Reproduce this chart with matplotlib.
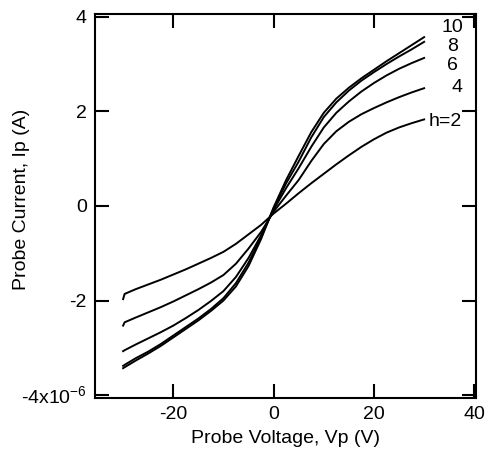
import matplotlib
matplotlib.use("Agg")
import matplotlib.pyplot as plt

plt.rcParams['font.family'] = ['Liberation Sans', 'DejaVu Sans']
plt.rcParams['mathtext.fontset'] = 'custom'
plt.rcParams['mathtext.rm'] = 'Liberation Sans'

# probe voltage (V) and probe current (units of 1e-6 A) for each h
v = [-30, -29.7, -27.5, -25, -22.5, -20, -17.5, -15, -12.5, -10, -7.5, -5, -2.5,
     0, 2.5, 5, 7.5, 10, 12.5, 15, 17.5, 20, 22.5, 25, 27.5, 30]

i_h2 = [-1.97, -1.86, -1.76, -1.66, -1.56, -1.45, -1.34, -1.22, -1.10, -0.97, -0.80, -0.60, -0.40,
        -0.16, 0.05, 0.27, 0.48, 0.68, 0.88, 1.07, 1.25, 1.41, 1.55, 1.66, 1.75, 1.83]
i_h4 = [-2.53, -2.46, -2.36, -2.25, -2.14, -2.02, -1.89, -1.76, -1.62, -1.46, -1.22, -0.90, -0.55,
        -0.12, 0.22, 0.55, 0.95, 1.31, 1.58, 1.78, 1.94, 2.07, 2.19, 2.30, 2.40, 2.49]
i_h6 = [-3.07, -3.05, -2.93, -2.80, -2.67, -2.53, -2.37, -2.20, -2.01, -1.80, -1.50, -1.10, -0.62,
        -0.08, 0.38, 0.80, 1.25, 1.66, 1.97, 2.21, 2.42, 2.60, 2.76, 2.90, 3.02, 3.13]
i_h8 = [-3.38, -3.36, -3.22, -3.08, -2.92, -2.74, -2.56, -2.38, -2.18, -1.95, -1.63, -1.20, -0.66,
        -0.05, 0.48, 0.94, 1.45, 1.88, 2.19, 2.44, 2.65, 2.83, 3.00, 3.16, 3.31, 3.47]
i_h10 = [-3.43, -3.41, -3.27, -3.12, -2.96, -2.78, -2.60, -2.42, -2.22, -2.00, -1.70, -1.27, -0.70,
         -0.03, 0.55, 1.06, 1.56, 1.97, 2.27, 2.50, 2.70, 2.88, 3.06, 3.23, 3.40, 3.57]

labels = ["h=2", "4", "6", "8", "10"]
label_pos = [(34.3, 1.78), (36.5, 2.50), (35.7, 2.98), (35.7, 3.37), (35.6, 3.77)]

fig = plt.figure(figsize=(4.86, 4.5), dpi=100)
ax = fig.add_axes([0.1955, 0.1156, 0.7835, 0.8534])

for cur in [i_h2, i_h4, i_h6, i_h8, i_h10]:
    ax.plot(v, cur, color='black', lw=1.4)

for txt, (x, y) in zip(labels, label_pos):
    ax.text(x, y, txt, fontsize=14, ha='center', va='center')

ax.set_xlim(-35.6, 40.3)
ax.set_ylim(-4.06, 4.06)
ax.set_xticks([-20, 0, 20, 40])
ax.set_xticklabels(["-20", "0", "20", "40"])
ax.set_yticks([-4, -2, 0, 2, 4])
ax.set_yticklabels(["-4x10$^{-6}$", "-2", "0", "2", "4"])

ax.tick_params(direction='in', length=10, width=1.5, top=True, right=True,
               labelsize=14, pad=6)
for s in ax.spines.values():
    s.set_linewidth(1.5)

ax.set_xlabel("Probe Voltage, Vp (V)", fontsize=14)
ax.set_ylabel("Probe Current, Ip (A)", fontsize=14)
ax.xaxis.set_label_coords(0.501, -0.083)
ax.yaxis.set_label_coords(-0.171, 0.516)

fig.savefig("out.png", dpi=100)
